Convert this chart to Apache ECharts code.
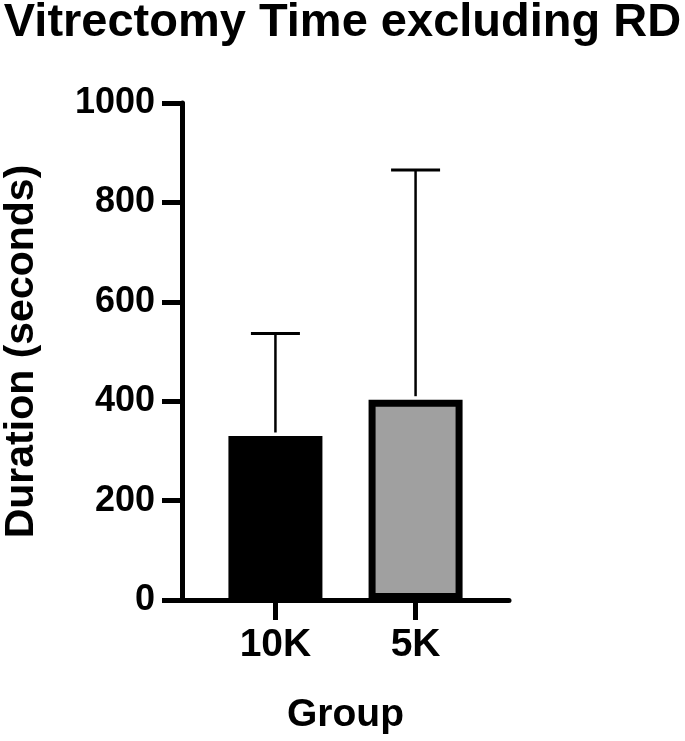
<!DOCTYPE html>
<html>
<head>
<meta charset="utf-8">
<script src="https://cdn.jsdelivr.net/npm/echarts@6/dist/echarts.min.js"></script>
<style>
  html, body { margin: 0; padding: 0; background: #fff; }
  #chart { width: 685px; height: 741px; }
</style>
</head>
<body>
<div id="chart"></div>
<script>
// values
const groups = ['10K', '5K']
const groupPos = [2, 5]
const meanSeconds = [330, 403]
const upperSeconds = [536, 865]
const barColors = ['#000000', '#a0a0a0']
const yTicks = [0, 200, 400, 600, 800, 1000]

const font = "'Liberation Sans', Arial, sans-serif"

const chart = echarts.init(document.getElementById('chart'))

const barData = groups.map((g, i) => ({
  value: [groupPos[i], meanSeconds[i]],
  itemStyle: { color: barColors[i] }
}))

const errData = groups.map((g, i) => [groupPos[i], meanSeconds[i], upperSeconds[i]])

chart.setOption({
  backgroundColor: '#fff',
  animation: false,
  title: {
    text: 'Vitrectomy Time excluding RD',
    left: 'center',
    top: -5,
    textStyle: { fontFamily: font, fontWeight: 'bold', fontSize: 47, color: '#000' }
  },
  grid: { left: 177, top: 103, width: 332, height: 497 },
  xAxis: {
    type: 'value',
    min: 0,
    max: 7,
    name: 'Group',
    nameLocation: 'middle',
    nameGap: 96,
    nameTextStyle: { fontFamily: font, fontWeight: 'bold', fontSize: 39, color: '#000' },
    axisLine: { show: true, lineStyle: { color: '#000', width: 5 } },
    axisTick: { show: true, length: 20, customValues: groupPos, lineStyle: { color: '#000', width: 5 } },
    axisLabel: {
      customValues: groupPos,
      margin: 26,
      fontFamily: font, fontWeight: 'bold', fontSize: 39, color: '#000',
      formatter: (v) => groups[groupPos.indexOf(v)] ?? ''
    },
    splitLine: { show: false }
  },
  yAxis: {
    type: 'value',
    min: yTicks[0],
    max: yTicks[yTicks.length - 1],
    interval: 200,
    name: 'Duration (seconds)',
    nameLocation: 'middle',
    nameRotate: 90,
    nameGap: 140,
    nameTextStyle: { fontFamily: font, fontWeight: 'bold', fontSize: 41, color: '#000' },
    axisLine: { show: true, lineStyle: { color: '#000', width: 5 } },
    axisTick: { show: true, length: 20, lineStyle: { color: '#000', width: 5 } },
    axisLabel: {
      margin: 27,
      fontFamily: font, fontWeight: 'bold', fontSize: 36, color: '#000',
      formatter: (v) => String(v)
    },
    splitLine: { show: false }
  },
  series: [
    {
      type: 'bar',
      barWidth: 94,
      data: barData,
      itemStyle: { borderColor: '#000', borderWidth: 7 },
      z: 1
    },
    {
      type: 'custom',
      data: errData,
      z: 3,
      renderItem: (params, api) => {
        const x = api.value(0)
        const base = api.coord([x, api.value(1)])
        const top = api.coord([x, api.value(2)])
        const half = 24.5
        return {
          type: 'group',
          children: [
            { type: 'line', shape: { x1: top[0], y1: base[1] - 3.5, x2: top[0], y2: top[1] },
              style: { stroke: '#000', lineWidth: 2.5 } },
            { type: 'line', shape: { x1: top[0] - half, y1: top[1], x2: top[0] + half, y2: top[1] },
              style: { stroke: '#000', lineWidth: 3 } }
          ]
        }
      }
    }
  ]
})
</script>
</body>
</html>
